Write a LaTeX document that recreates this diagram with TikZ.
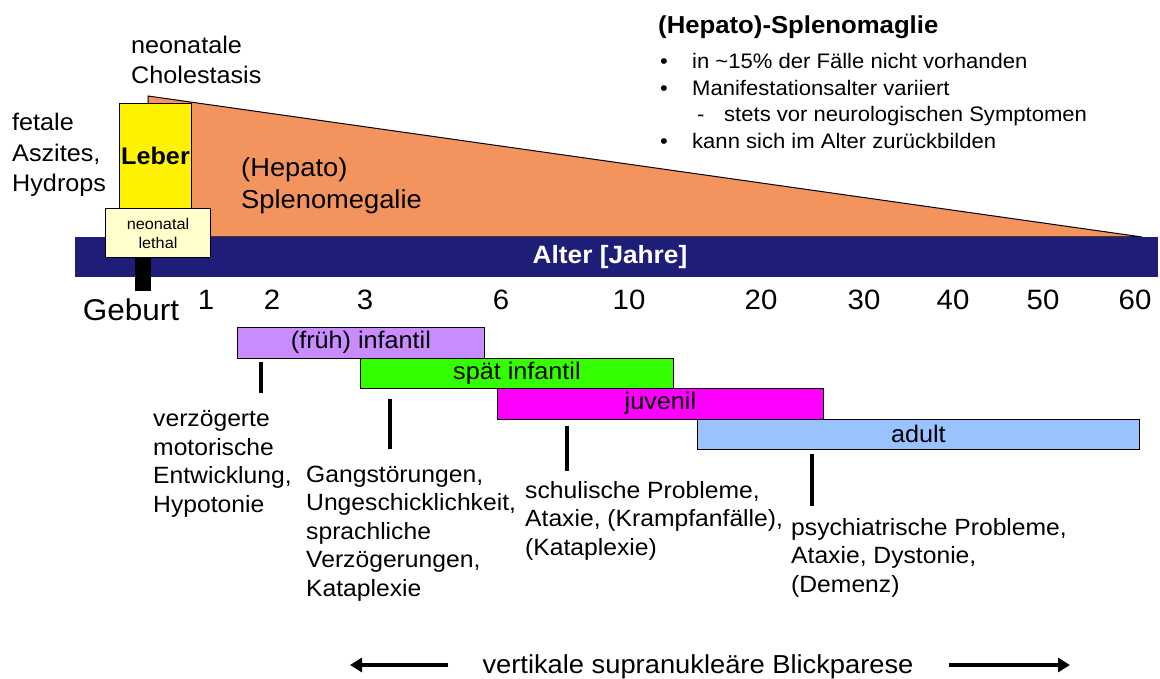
\documentclass[tikz,border=0pt]{standalone}
\usepackage{fontspec}
\setmainfont{Liberation Sans}[FakeStretch=1.05]
\usetikzlibrary{arrows.meta}
\definecolor{navyc}{RGB}{30,30,120}
\definecolor{orng}{RGB}{243,148,94}
\definecolor{lyel}{RGB}{255,255,204}
\definecolor{purp}{RGB}{200,140,255}
\definecolor{grn}{RGB}{51,255,0}
\definecolor{mag}{RGB}{255,0,255}
\definecolor{lblue}{RGB}{153,194,255}
\begin{document}
\begin{tikzpicture}[x=1pt,y=-1pt,
  % for multi-line nodes the base anchor is the baseline of the last line
  txt/.style={inner sep=0pt, align=left, anchor=base west, font=\fontsize{23.5}{28.5}\selectfont},
  lbl/.style={inner sep=0pt, align=left, anchor=base west, font=\fontsize{24}{30.5}\selectfont},
  num/.style={inner sep=0pt, anchor=base, font=\fontsize{28}{28}\selectfont},
  bul/.style={inner sep=0pt, anchor=base west, font=\fontsize{21}{21}\selectfont},
  agebar/.style={draw=black, line width=0.8pt, minimum height=30.5pt, inner sep=0pt, anchor=north west, font=\fontsize{24}{24}\selectfont},
  tickmark/.style={line width=4pt},
  bigarrow/.style={line width=4pt, -{Triangle[length=12pt,width=14pt]}},
]
\useasboundingbox (0,0) rectangle (1160,679);

% orange wedge
\draw[fill=orng, line width=1pt] (148,96) -- (1142,237) -- (148,237) -- cycle;

% age axis bar
\node[fill=navyc, minimum width=1083pt, minimum height=40pt, anchor=north west, inner sep=0pt] (alter) at (75,237) {};
\node[inner sep=0pt, text=white, font=\bfseries\fontsize{25}{25}\selectfont] (altertxt) at (610,257) {Alter [Jahre]};

% Leber box
\node[draw, fill=yellow, line width=1pt, minimum width=72pt, minimum height=105pt, anchor=north west,
      inner sep=0pt, font=\bfseries\fontsize{24}{24}\selectfont] (leber) at (119,103) {Leber};

% birth bar
\node[fill=black, minimum width=16pt, minimum height=34pt, anchor=north west, inner sep=0pt] (gbar) at (135,257) {};

% neonatal lethal
\node[draw, fill=lyel, line width=1pt, minimum width=105pt, minimum height=49pt, anchor=north west,
      inner sep=0pt, align=center, font=\fontsize{15.5}{19}\selectfont] (neo) at (105,208) {neonatal\\lethal};

% Geburt and numbers
\node[inner sep=0pt, anchor=base, font=\fontsize{30}{30}\selectfont] (geburt) at (131,320) {Geburt};
\foreach \x/\t in {206/1, 272/2, 365/3, 501/6, 629/10, 761/20, 864/30, 953/40, 1043/50, 1135/60}
  \node[num] (n\t) at (\x,309) {\t};

% upper left labels
\node[lbl] (fetal) at (12,192) {fetale\\Aszites,\\Hydrops};
\node[lbl] (chol) at (131,84) {neonatale\\Cholestasis};
\node[inner sep=0pt, align=left, anchor=base west, font=\fontsize{26}{32}\selectfont] (hsm) at (241,209) {(Hepato)\\Splenomegalie};

% right info block
\node[inner sep=0pt, anchor=base west, font=\bfseries\fontsize{24.5}{24.5}\selectfont] (title) at (658,34) {(Hepato)-Splenomaglie};
\node[bul] (b1) at (660,69) {•};
\node[bul] (l1) at (692,69) {in \textasciitilde15\% der Fälle nicht vorhanden};
\node[bul] (b2) at (660,95.5) {•};
\node[bul] (l2) at (692,95.5) {Manifestationsalter variiert};
\node[bul] (d3) at (697,122) {-};
\node[bul] (l3) at (724,122) {stets vor neurologischen Symptomen};
\node[bul] (b4) at (660,148.5) {•};
\node[bul] (l4) at (692,148.5) {kann sich im Alter zurückbilden};

% age groups
\node[agebar, fill=purp, minimum width=247pt] (fi) at (237,327) {(früh) infantil};
\node[agebar, fill=grn, minimum width=313pt] (si) at (360,357.5) {spät infantil};
\node[agebar, fill=mag, minimum width=326pt] (juv) at (497,388) {juvenil};
\node[agebar, fill=lblue, minimum width=442pt] (ad) at (697,418.5) {adult};

% tick marks
\draw[tickmark] (261,362) -- (261,393);
\draw[tickmark] (390,399) -- (390,449);
\draw[tickmark] (567,426) -- (567,471);
\draw[tickmark] (812,454) -- (812,506);

% symptom texts
\node[txt] (t1) at (153,512) {verzögerte\\motorische\\Entwicklung,\\Hypotonie};
\node[txt] (t2) at (306,596) {Gangstörungen,\\Ungeschicklichkeit,\\sprachliche\\Verzögerungen,\\Kataplexie};
\node[txt] (t3) at (525,555) {schulische Probleme,\\Ataxie, (Krampfanfälle),\\(Kataplexie)};
\node[txt] (t4) at (791,592) {psychiatrische Probleme,\\Ataxie, Dystonie,\\(Demenz)};

% bottom
\node[inner sep=0pt, anchor=base, font=\fontsize{26}{26}\selectfont] (vsb) at (698,673) {vertikale supranukleäre Blickparese};
\coordinate (la1) at (448,665);
\coordinate (la2) at (350,665);
\coordinate (ra1) at (949,665);
\coordinate (ra2) at (1070,665);
\draw[bigarrow] (la1) -- (la2);
\draw[bigarrow] (ra1) -- (ra2);
\end{tikzpicture}
\end{document}
